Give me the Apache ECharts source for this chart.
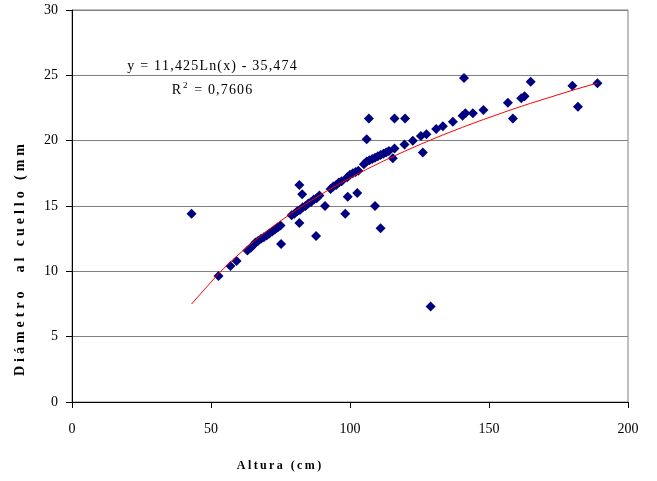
<!DOCTYPE html>
<html><head><meta charset="utf-8">
<script src="https://cdn.jsdelivr.net/npm/echarts@6/dist/echarts.min.js"></script>
<style>html,body{margin:0;padding:0;background:#fff}#c{width:657px;height:481px}</style>
</head><body><div id="c"></div>
<script>
// Altura (cm) and Diámetro al cuello (mm)
const alturaX = [
  43, 52.7, 57, 59.2, 63.1, 64.3, 65.2,
  66, 67, 68, 69, 70, 71, 72, 73, 74, 75,
  75.2, 81.8, 82.8, 81.8, 87.8,
  79, 80, 81, 82, 83, 84, 85, 86, 87, 88, 89,
  91, 98.3, 99.2, 102.6,
  93, 94, 95, 96, 97, 99, 100, 101, 102, 103,
  105, 106, 107, 108, 109, 110, 111, 112, 113, 114, 116,
  115.4, 106, 106.8, 116, 119.8, 109, 111, 129,
  119.6, 122.6, 125.5, 127.5, 126.2, 131, 133.4, 137, 140.5, 141.5, 141,
  144.2, 148, 156.8, 158.6, 161.6, 162.8, 165, 180, 182, 189
];
const diametroY = [
  14.4, 9.65, 10.4, 10.8, 11.6, 11.8, 12.0,
  12.2, 12.35, 12.5, 12.6, 12.75, 12.9, 13.05, 13.2, 13.35, 13.5,
  12.1, 16.6, 15.9, 13.7, 12.7,
  14.3, 14.4, 14.6, 14.7, 14.9, 15.0, 15.2, 15.3, 15.5, 15.6, 15.8,
  15.0, 14.4, 15.7, 16.0,
  16.3, 16.5, 16.6, 16.8, 16.9, 17.2, 17.4, 17.5, 17.6, 17.7,
  18.2, 18.4, 18.5, 18.6, 18.7, 18.8, 18.9, 19.0, 19.1, 19.2, 19.4,
  18.65, 20.1, 21.7, 21.7, 21.7, 15.0, 13.3, 7.3,
  19.7, 20.0, 20.35, 20.5, 19.1, 20.9, 21.1, 21.45, 21.9, 22.1, 24.8,
  22.1, 22.35, 22.9, 21.7, 23.25, 23.4, 24.5, 24.2, 22.6, 24.4
];
// Logarithmic trend line coefficients as printed on the chart
const trendA = 11.425;
const trendB = -35.474;
const equationText = 'y = 11,425Ln(x) - 35,474';
const r2Text = ' = 0,7606';
const xTitle = 'Altura (cm)';
const yTitle = 'Diámetro  al cuello (mm';

const points = alturaX.map((x, i) => [x, diametroY[i]]);
const trendX = Array.from(new Set(alturaX)).sort((a, b) => a - b);
const trendPts = trendX.map(x => [x, trendA * Math.log(x) + trendB]);

const spaced = s => s.split('').join('\u2009');
const wide = s => s.split('').join('\u2009\u200a');
const hair = s => s.split('').join('\u200a');
const FONT = '"Liberation Serif", "DejaVu Serif", serif';

const chart = echarts.init(document.getElementById('c'), null, {renderer: 'canvas'});
chart.setOption({
  animation: false,
  backgroundColor: '#fff',
  grid: {left: 72, right: 29, top: 10, bottom: 79, show: true, borderColor: '#808080', borderWidth: 1},
  xAxis: {
    type: 'value', min: 0, max: 200, interval: 50,
    axisLine: {lineStyle: {color: '#000', width: 1}},
    axisTick: {show: true, length: 6, lineStyle: {color: '#000'}},
    axisLabel: {color: '#000', fontFamily: FONT, fontSize: 14, margin: 20},
    splitLine: {show: false}
  },
  yAxis: {
    type: 'value', min: 0, max: 30, interval: 5,
    axisLine: {show: true, lineStyle: {color: '#000', width: 1}},
    axisTick: {show: true, length: 6, lineStyle: {color: '#000'}},
    axisLabel: {color: '#000', fontFamily: FONT, fontSize: 14, margin: 14},
    splitLine: {show: true, lineStyle: {color: '#808080', width: 1}}
  },
  series: [
    {
      type: 'scatter', data: points, symbol: 'diamond', symbolSize: 10,
      itemStyle: {color: '#000080', opacity: 1}, z: 2
    },
    {
      type: 'line', data: trendPts, showSymbol: false, smooth: false,
      lineStyle: {color: '#ff0000', width: 1}, z: 3
    }
  ],
  graphic: [
    {type: 'text', x: 212, y: 66, style: {
      text: hair(equationText),
      font: '14px ' + FONT, fill: '#000', align: 'center', verticalAlign: 'middle'}},
    {type: 'text', x: 212, y: 90, style: {
      text: '{r|R}{s|2}{r|' + hair(r2Text) + '}',
      align: 'center', verticalAlign: 'middle', fill: '#000',
      rich: {
        r: {fontFamily: FONT, fontSize: 14, fill: '#000', lineHeight: 18},
        s: {fontFamily: FONT, fontSize: 9, fill: '#000', verticalAlign: 'top', lineHeight: 18, padding: [0, 2, 0, 2]}
      }}},
    {type: 'text', x: 279, y: 466, style: {
      text: spaced(xTitle), font: 'bold 12px ' + FONT, fill: '#000', align: 'center', verticalAlign: 'middle'}},
    {type: 'text', x: 20, y: 260, rotation: Math.PI / 2, style: {
      text: wide(yTitle), font: 'bold 14px ' + FONT, fill: '#000', align: 'center', verticalAlign: 'middle'}}
  ]
});
</script>
</body></html>
